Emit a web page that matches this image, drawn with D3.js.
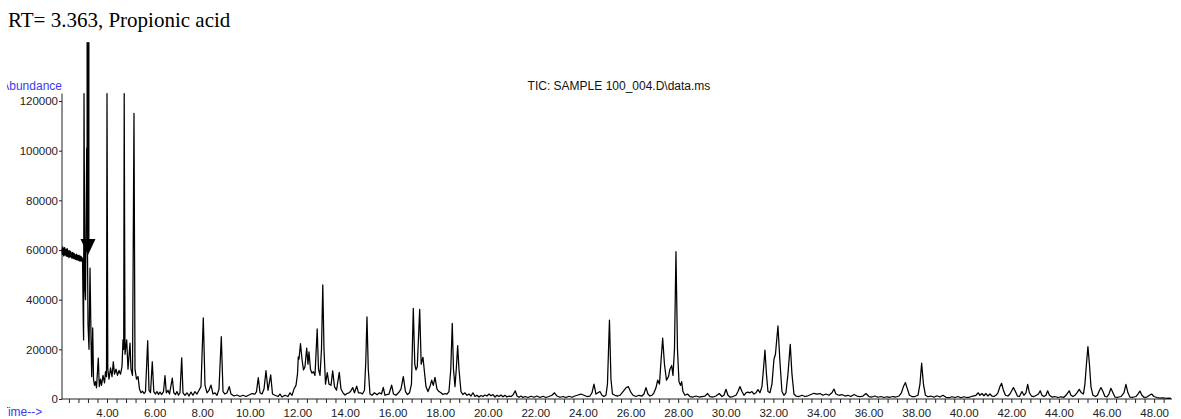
<!DOCTYPE html>
<html><head><meta charset="utf-8">
<script src="https://cdn.jsdelivr.net/npm/d3@7/dist/d3.min.js"></script>
<style>body{margin:0;background:#fff}svg{display:block}</style>
</head><body>
<script>
const title = "RT= 3.363, Propionic acid";
const traceLabel = "TIC: SAMPLE 100_004.D\\data.ms";
const yLabel = "Abundance";
const xLabel = "Time-->";
const yTicks = [0, 20000, 40000, 60000, 80000, 100000, 120000];
const xTickLabels = [4,6,8,10,12,14,16,18,20,22,24,26,28,30,32,34,36,38,40,42,44,46,48];
const arrowTime = 3.18, arrowTop = 143700, arrowTip = 58000;

const times = [
2.088,2.105,2.118,2.132,2.146,2.158,2.172,2.188,2.200,2.214,
2.228,2.240,2.254,2.270,2.284,2.296,2.310,2.324,2.338,2.352,
2.366,2.380,2.394,2.408,2.422,2.436,2.450,2.464,2.478,2.492,
2.506,2.520,2.534,2.548,2.562,2.576,2.590,2.604,2.618,2.632,
2.646,2.660,2.674,2.688,2.702,2.716,2.730,2.744,2.758,2.772,
2.786,2.800,2.814,2.828,2.842,2.856,2.870,2.884,2.898,2.912,
2.926,2.940,2.950,2.983,2.996,
3.013,3.047,3.076,3.126,3.151,3.181,3.223,3.265,3.307,3.336,3.378,3.412,3.454,3.496,3.538,3.613,3.655,
3.706,3.748,3.811,3.874,3.916,3.958,3.979,4.013,4.063,4.126,4.189,4.244,4.294,4.357,4.420,4.483,4.546,
4.609,4.651,4.681,4.702,4.735,4.807,4.861,4.945,4.987,5.050,5.113,5.155,5.218,5.282,5.345,5.408,5.471,
5.534,5.597,5.689,5.744,5.807,5.882,5.945,6.017,6.080,6.143,6.206,6.269,6.353,6.416,6.471,6.542,6.605,
6.723,6.786,6.857,6.920,6.983,7.046,7.118,7.172,7.256,7.340,7.424,7.508,7.592,7.676,7.760,7.845,7.929,
8.025,8.097,8.181,8.265,8.349,8.433,8.517,8.601,8.685,8.782,8.853,8.937,9.021,9.118,9.189,9.315,9.441,
9.567,9.693,9.819,9.945,10.071,10.197,10.261,10.336,10.408,10.492,10.576,10.660,10.744,10.857,10.933,
11.038,11.164,11.248,11.332,11.458,11.584,11.668,11.752,11.836,11.920,11.983,12.017,12.046,12.109,12.172,
12.235,12.298,12.370,12.424,12.466,12.529,12.592,12.655,12.718,12.811,12.866,12.929,12.992,13.046,13.097,
13.160,13.235,13.307,13.391,13.462,13.538,13.622,13.739,13.811,13.895,13.979,14.063,14.147,14.210,14.303,
14.378,14.471,14.546,14.630,14.714,14.798,14.853,14.903,14.958,15.029,15.113,15.218,15.324,15.429,15.513,
15.588,15.660,15.744,15.828,15.941,16.017,16.122,16.227,16.332,16.429,16.521,16.605,16.689,16.773,16.849,
16.912,16.962,17.017,17.118,17.181,17.256,17.328,17.382,17.466,17.550,17.622,17.689,17.761,17.845,17.929,
18.013,18.097,18.181,18.265,18.349,18.424,18.487,18.538,18.601,18.655,18.714,18.769,18.853,18.937,19.021,
19.105,19.189,19.273,19.357,19.441,19.525,19.609,19.693,19.777,19.861,19.945,20.029,20.113,20.197,20.282,
20.366,20.450,20.534,20.618,20.702,20.786,20.870,20.954,21.038,21.134,21.206,21.290,21.374,21.458,21.542,
21.668,21.794,21.920,22.046,22.172,22.298,22.424,22.550,22.676,22.782,22.887,23.013,23.139,23.265,23.391,
23.517,23.643,23.769,23.895,24.021,24.147,24.273,24.357,24.441,24.525,24.609,24.693,24.777,24.861,24.945,
25.008,25.092,25.155,25.218,25.324,25.450,25.534,25.618,25.702,25.786,25.882,25.975,26.080,26.206,26.332,
26.458,26.542,26.626,26.710,26.794,26.878,26.962,27.046,27.118,27.193,27.256,27.328,27.403,27.487,27.571,
27.634,27.706,27.761,27.824,27.887,27.950,28.013,28.076,28.126,28.181,28.265,28.370,28.475,28.601,28.727,
28.853,28.979,29.105,29.218,29.315,29.441,29.567,29.706,29.819,29.903,29.987,30.071,30.155,30.282,30.408,
30.492,30.576,30.660,30.744,30.828,30.912,30.996,31.080,31.164,31.248,31.332,31.416,31.500,31.563,31.626,
31.689,31.752,31.836,31.920,32.004,32.067,32.172,32.256,32.340,32.424,32.508,32.592,32.689,32.761,32.845,
32.929,33.055,33.181,33.307,33.433,33.559,33.685,33.811,33.937,34.063,34.189,34.315,34.441,34.525,34.609,
34.735,34.861,34.987,35.113,35.239,35.366,35.492,35.618,35.744,35.870,35.996,36.122,36.248,36.374,36.500,
36.626,36.752,36.878,37.004,37.130,37.256,37.361,37.445,37.529,37.613,37.697,37.803,37.929,38.055,38.139,
38.210,38.286,38.370,38.475,38.601,38.727,38.853,38.979,39.105,39.231,39.357,39.483,39.609,39.735,39.861,
39.987,40.113,40.239,40.366,40.492,40.588,40.660,40.744,40.828,40.912,40.996,41.080,41.164,41.248,41.332,
41.416,41.500,41.571,41.647,41.731,41.836,41.920,42.004,42.067,42.151,42.235,42.319,42.424,42.508,42.592,
42.664,42.739,42.824,42.929,43.034,43.118,43.193,43.265,43.349,43.433,43.504,43.580,43.685,43.811,43.937,
44.063,44.189,44.273,44.412,44.483,44.567,44.651,44.735,44.832,44.924,45.008,45.071,45.134,45.197,45.261,
45.324,45.408,45.513,45.597,45.660,45.744,45.828,45.912,45.996,46.080,46.164,46.248,46.332,46.458,46.584,
46.710,46.794,46.878,46.962,47.088,47.214,47.298,47.382,47.466,47.550,47.676,47.782,47.874,47.971,48.097,
48.223,48.349,48.475,48.601,48.685
];
const abundance = [
60500,58200,61300,59000,60200,57600,60800,58800,61000,57900,
59600,58300,60400,57500,59200,58000,60600,57400,59800,58400,
59200,56900,59700,57800,58900,57200,59400,57600,58800,56800,
58600,57300,59000,56600,58200,57000,58700,56400,58300,56900,
58000,56200,57900,56700,58300,56000,57700,56500,57900,55800,
57600,56300,57800,55600,57300,56200,57500,55500,57200,55900,
57000,55400,56500,30000,23800,
123000,45000,40000,101000,70000,30000,20000,52700,25000,9000,28600,8000,5500,7000,4500,16500,5000,
8000,5500,9500,6500,11000,9000,123000,12000,8000,12500,9000,15000,10000,12000,9500,11500,10000,
13000,23800,20000,123000,18000,23800,12000,22500,12000,9500,115000,12000,8000,9000,4000,2500,3200,
2200,3000,23500,3500,2500,15000,3000,2000,3000,1800,2800,1800,3000,9400,2500,3500,2000,
8400,2500,1800,3000,1500,2500,16600,2500,1500,2500,1200,2800,1500,3000,2000,3500,5000,
32700,5500,2500,3500,5600,2000,2500,1500,4000,25100,3000,2000,2500,5000,2000,1200,1600,
1000,1500,1000,1600,2200,2000,3000,8600,2500,2000,4000,11400,3500,9700,2000,
1500,1000,2000,800,1500,1000,2500,1500,4000,5500,10000,17000,16000,22300,16000,
11700,13000,20500,14000,19000,12000,10400,11000,9500,28200,12000,9500,20000,46000,20000,
6000,10600,6000,5500,11300,5000,3500,10700,4000,2500,1600,2200,2500,3000,4600,
2500,5200,2500,2500,2000,3500,15000,33100,12000,2000,1500,2500,1700,2500,2000,
4700,1500,1800,2000,5600,2000,1500,2500,4000,9000,3000,1800,2500,6000,36500,
14000,11700,13000,36100,14000,16800,10000,5000,3000,5000,7600,5500,8700,4000,3000,
2500,1800,2200,2000,3000,12000,30500,12000,5000,12000,21500,12000,3000,1800,2500,
1500,2000,1200,2500,1000,1500,800,1400,1000,1600,1200,2000,1300,1800,800,
1500,1000,1600,900,1500,800,1200,1000,1600,3300,1200,700,1200,600,1000,
600,1100,700,1200,600,1100,600,1000,1500,2500,1200,700,1000,600,1100,
700,1200,1600,2000,1500,1000,1200,2500,6000,2000,2500,3000,1500,1000,1500,
6000,31800,8000,2000,1500,1200,1500,2500,3500,4500,5000,3000,1500,1000,1500,
1200,2000,4600,2000,1200,1500,2500,4500,7600,6000,15000,24500,14000,7600,9000,
12000,13500,9500,20000,59300,20000,7000,5500,7000,3000,1500,2000,1000,800,1200,
800,1000,1200,2200,1000,800,1200,2200,1000,1500,3900,1500,800,1000,1500,
3000,5000,3000,1500,2500,2800,2500,3000,2000,2500,3800,2500,5000,12000,19700,
10000,3000,2500,6000,16000,18000,29400,15000,3000,1500,2500,10000,22000,10000,2000,
1200,1000,1500,1000,1300,1800,2300,2000,2200,1500,2000,1500,2500,4000,2000,
1500,1800,1200,1500,1000,1800,1200,900,1200,2200,1000,800,1200,700,1000,
600,900,700,1000,800,1200,2500,5000,6600,4000,1500,1000,1000,1500,6000,
14400,6000,1500,900,1200,700,1300,800,1500,700,500,900,600,1000,500,
900,600,800,1200,1500,2500,1500,2200,1300,2200,1200,2000,1200,1000,1500,
2500,5000,6300,3500,1500,1200,2000,3500,4600,3000,1200,1000,3000,1500,2500,
5900,2500,1200,1000,1500,2000,3300,1500,1000,1500,3300,1500,800,1000,600,
900,700,1500,3300,1500,1000,1500,2500,3900,2500,2000,6000,14000,21100,14000,
5000,1500,1000,1500,3000,4600,3000,1000,800,2000,4300,2500,800,700,1000,
2500,5900,2500,800,700,1000,2000,3200,1500,700,800,1500,2000,1000,600,
400,500,300,400,300
];

const W = 1181, H = 419;
const svg = d3.select("body").append("svg").attr("width", W).attr("height", H);
const x = d3.scaleLinear().domain([2.088, 48.73]).range([62, 1172]);
const y = d3.scaleLinear().domain([0, 120000]).range([399, 101]);
const sans = "'Liberation Sans', Arial, sans-serif";

const defs = svg.append("defs");
defs.append("clipPath").attr("id", "lblclip").append("rect").attr("x", 7).attr("y", 0).attr("width", W).attr("height", H);

// title
svg.append("text").attr("x", 8).attr("y", 27).attr("font-family", "'Liberation Serif', 'Times New Roman', serif")
  .attr("font-size", 21).attr("fill", "#000").text(title);

// trace label
svg.append("text").attr("x", 619).attr("y", 90).attr("text-anchor", "middle")
  .attr("font-family", sans).attr("font-size", 12).attr("fill", "#111").text(traceLabel);

// axis labels
svg.append("text").attr("x", 62).attr("y", 90).attr("text-anchor", "end").attr("clip-path", "url(#lblclip)")
  .attr("font-family", sans).attr("font-size", 12).attr("fill", "#3c3cf0").text(yLabel);
svg.append("text").attr("x", 1).attr("y", 416).attr("clip-path", "url(#lblclip)")
  .attr("font-family", sans).attr("font-size", 12).attr("fill", "#3c3cf0").text(xLabel);

// y axis
const gy = svg.append("g").attr("transform", "translate(62,0)")
  .call(d3.axisLeft(y).tickValues(yTicks).tickSize(3).tickPadding(1).tickFormat(d3.format("d")));
gy.select(".domain").remove();
gy.selectAll("text").attr("font-family", sans).attr("font-size", 11.5).attr("fill", "#222");
gy.selectAll("line").attr("stroke", "#222");
svg.append("line").attr("x1", 62).attr("x2", 62).attr("y1", y(123000)).attr("y2", y(0)).attr("stroke", "#222");

// x axis
svg.append("line").attr("x1", 62).attr("x2", 1172).attr("y1", y(0)).attr("y2", y(0)).attr("stroke", "#222");
const minor = d3.range(2.4, 48.75, 0.4);
svg.append("g").selectAll("line").data(minor).join("line")
  .attr("x1", d => x(d)).attr("x2", d => x(d)).attr("y1", y(0)).attr("y2", y(0) + 4).attr("stroke", "#222");
svg.append("g").selectAll("text").data(xTickLabels).join("text")
  .attr("x", d => x(d)).attr("y", 416.5).attr("text-anchor", "middle")
  .attr("font-family", sans).attr("font-size", 11.5).attr("fill", "#222").text(d => d.toFixed(2));

// trace
const pts = times.map((t, i) => [t, abundance[i]]);
svg.append("path").datum(pts).attr("fill", "none").attr("stroke", "#000").attr("stroke-width", 1.25)
  .attr("stroke-linejoin", "round")
  .attr("d", d3.line().x(d => x(d[0])).y(d => y(d[1])));

// arrow annotation
const ax = x(arrowTime);
svg.append("line").attr("x1", ax).attr("x2", ax).attr("y1", y(arrowTop)).attr("y2", y(arrowTip) - 14)
  .attr("stroke", "#000").attr("stroke-width", 3);
svg.append("path").attr("fill", "#000")
  .attr("d", `M${ax - 7.5},${y(arrowTip) - 16} L${ax + 7.5},${y(arrowTip) - 16} L${ax},${y(arrowTip)} Z`);
</script>
</body></html>
